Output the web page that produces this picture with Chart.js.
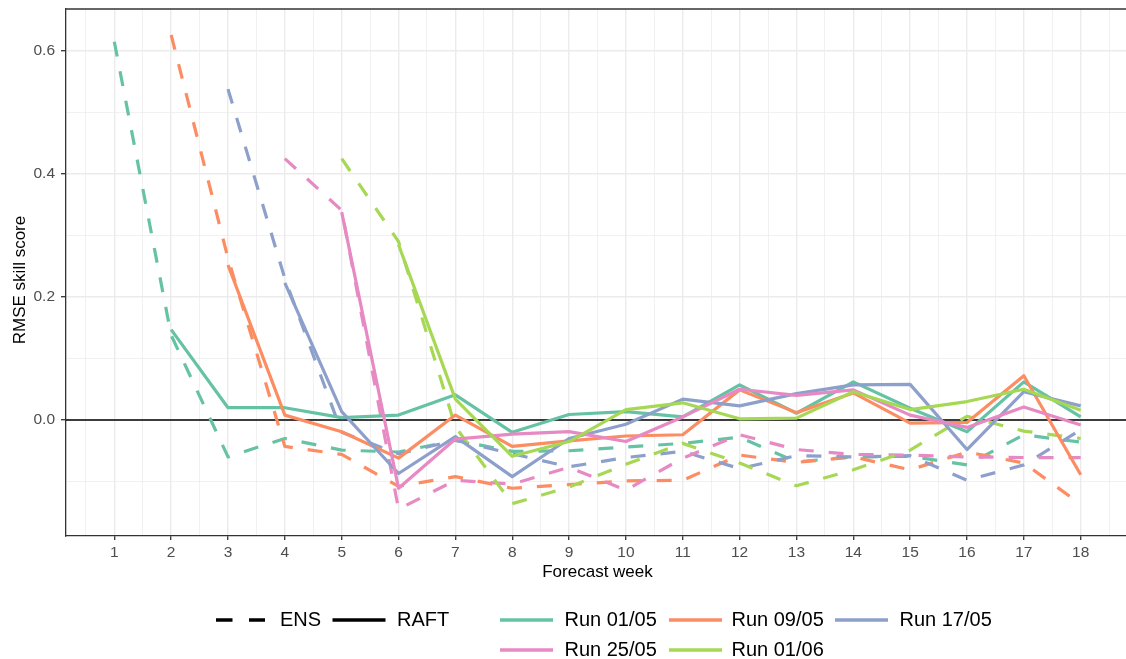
<!DOCTYPE html>
<html><head><meta charset="utf-8">
<script src="https://cdn.jsdelivr.net/npm/chart.js@4.4.0/dist/chart.umd.min.js"></script>
<style>
html,body{margin:0;padding:0;background:#fff;overflow:hidden;width:1126px;height:659px}
#wrap{position:absolute;left:0;top:0;width:1129px;height:659px}
</style></head>
<body><div id="wrap"><canvas id="c" width="1129" height="659"></canvas></div>
<script>
// ---- data ----
const weeks = [1,2,3,4,5,6,7,8,9,10,11,12,13,14,15,16,17,18];
const runNames = ['Run 01/05','Run 09/05','Run 17/05','Run 25/05','Run 01/06'];
const methodNames = ['ENS','RAFT'];
const yTickLabels = ['0.0','0.2','0.4','0.6'];
const xTickLabels = weeks.map(String);

const ens0105  = [0.615, 0.138, -0.060, -0.030, -0.049, -0.052, -0.033, -0.051, -0.050, -0.044, -0.038, -0.028, -0.068, -0.060, -0.059, -0.073, -0.024, -0.036];
const ens0905  = [null, 0.626, 0.263, -0.043, -0.056, -0.108, -0.092, -0.111, -0.105, -0.099, -0.098, -0.057, -0.069, -0.060, -0.081, -0.052, -0.070, -0.137];
const ens1705  = [null, null, 0.538, 0.230, -0.020, -0.055, -0.033, -0.055, -0.076, -0.061, -0.051, -0.079, -0.058, -0.060, -0.058, -0.098, -0.073, -0.016];
const ens2505  = [null, null, null, 0.425, 0.341, -0.145, -0.098, -0.104, -0.077, -0.114, -0.062, -0.024, -0.048, -0.056, -0.057, -0.060, -0.061, -0.061];
const ens0106  = [null, null, null, null, 0.425, 0.290, -0.011, -0.136, -0.109, -0.072, -0.038, -0.070, -0.107, -0.081, -0.049, 0.006, -0.018, -0.030];

const raft0105 = [null, 0.147, 0.020, 0.020, 0.004, 0.008, 0.041, -0.020, 0.009, 0.0135, 0.005, 0.057, 0.011, 0.062, 0.019, -0.019, 0.062, 0.005];
const raft0905 = [null, null, 0.252, 0.008, -0.019, -0.062, 0.008, -0.043, -0.034, -0.026, -0.024, 0.049, 0.012, 0.044, -0.005, -0.004, 0.072, -0.089];
const raft1705 = [null, null, null, 0.223, 0.0135, -0.087, -0.027, -0.092, -0.030, -0.007, 0.034, 0.023, 0.043, 0.057, 0.058, -0.048, 0.046, 0.023];
const raft2505 = [null, null, null, null, 0.338, -0.111, -0.031, -0.023, -0.019, -0.035, 0.005, 0.050, 0.040, 0.049, 0.008, -0.012, 0.021, -0.008];
const raft0106 = [null, null, null, null, null, 0.285, 0.034, -0.059, -0.035, 0.017, 0.028, 0.002, 0.003, 0.046, 0.017, 0.030, 0.050, 0.016];

const ensSeries  = [ens0105, ens0905, ens1705, ens2505, ens0106];
const raftSeries = [raft0105, raft0905, raft1705, raft2505, raft0106];

// ---- styles ----
const runColors = ['#66C2A5','#FC8D62','#8DA0CB','#E78AC3','#A6D854'];
const FONT = '"Liberation Sans", Arial, Helvetica, sans-serif';
const DASH = [15, 15];

function toPoints(vals){
  const pts = [];
  vals.forEach((v,i)=>{ if(v!==null) pts.push({x:weeks[i], y:v}); });
  return pts;
}

// drawing order: ENS runs first, then RAFT runs (last drawn on top).
// Chart.js draws index 0 last, so reverse.
const ordered = [];
ensSeries.forEach((s,i)=>ordered.push({label:methodNames[0]+' '+runNames[i], data:toPoints(s), borderColor:runColors[i], borderDash:DASH}));
raftSeries.forEach((s,i)=>ordered.push({label:methodNames[1]+' '+runNames[i], data:toPoints(s), borderColor:runColors[i], borderDash:[]}));
const datasets = ordered.reverse().map(d=>Object.assign({borderWidth:3.2, pointRadius:0, fill:false, tension:0, borderCapStyle:'butt', borderJoinStyle:'round'}, d));

const yTickValues = [-0.1,0,0.1,0.2,0.3,0.4,0.5,0.6];
const xTickValues = [];
for(let v=0.5; v<=18.5; v+=0.5) xTickValues.push(v);

const isMajorY = v => Math.abs(Math.round(v*10)%2)===0 && v>=0;
const isMajorX = v => Math.abs(v-Math.round(v))<1e-9;

const decor = {
  id:'decor',
  beforeDatasetsDraw(chart){
    const {ctx, chartArea:a, scales:{y}} = chart;
    const y0 = y.getPixelForValue(0);
    ctx.save();
    ctx.beginPath(); ctx.rect(a.left,a.top,a.right-a.left,a.bottom-a.top); ctx.clip();
    ctx.strokeStyle='#000'; ctx.lineWidth=1.5;
    ctx.beginPath(); ctx.moveTo(a.left,y0); ctx.lineTo(a.right,y0); ctx.stroke();
    ctx.restore();
  },
  afterDraw(chart){
    const {ctx, chartArea:a} = chart;
    ctx.save();
    // top border
    ctx.strokeStyle='#333'; ctx.lineWidth=1.3;
    ctx.beginPath(); ctx.moveTo(a.left, a.top); ctx.lineTo(a.right, a.top); ctx.stroke();
    // axis titles
    ctx.fillStyle='#000';
    ctx.font = '17px '+FONT;
    ctx.textAlign='center'; ctx.textBaseline='middle';
    ctx.fillText('Forecast week', (a.left+a.right)/2, 572);
    ctx.save();
    ctx.translate(20, 280);
    ctx.rotate(-Math.PI/2);
    ctx.fillText('RMSE skill score', 0, 0);
    ctx.restore();
    // legend
    ctx.font = '20px '+FONT;
    ctx.textAlign='left'; ctx.textBaseline='middle';
    const row1 = 620, row2 = 650;
    function key(x1,x2,y,color,dash){
      ctx.save(); ctx.strokeStyle=color; ctx.lineWidth=3.5; ctx.lineCap='butt';
      ctx.setLineDash(dash); ctx.beginPath(); ctx.moveTo(x1,y); ctx.lineTo(x2,y); ctx.stroke(); ctx.restore();
    }
    key(216,265,row1,'#000',[16.5,16.5]); ctx.fillText(methodNames[0],280,row1);
    key(332.5,385.5,row1,'#000',[]);      ctx.fillText(methodNames[1],397,row1);
    const pos = [[500,553,564.5,row1],[669,722,731.5,row1],[835,888,899.5,row1],[500,553,564.5,row2],[669,722,731.5,row2]];
    pos.forEach((p,i)=>{ key(p[0],p[1],p[3],runColors[i],[]); ctx.fillStyle='#000'; ctx.fillText(runNames[i],p[2],p[3]); });
    ctx.restore();
  }
};

new Chart(document.getElementById('c'), {
  type:'line',
  data:{datasets},
  options:{
    responsive:false, devicePixelRatio:1, animation:false,
    layout:{padding:{top:9,left:0,right:0,bottom:0}},
    plugins:{legend:{display:false}, tooltip:{enabled:false}},
    scales:{
      x:{
        type:'linear', min:0.15, max:18.85,
        afterBuildTicks:s=>{ s.ticks = xTickValues.map(v=>({value:v})); },
        afterFit:s=>{ s.height=123; s.paddingLeft=0; s.paddingRight=0; s.paddingTop=0; s.paddingBottom=0; },
        grid:{color:'#EBEBEB', lineWidth:c=>isMajorX(c.tick.value)?1.4:0.7,
              tickColor:c=>isMajorX(c.tick.value)?'#333':'rgba(0,0,0,0)', tickLength:4, tickWidth:1.3, drawTicks:true},
        border:{display:true, color:'#333', width:1.3},
        ticks:{autoSkip:false, maxRotation:0, minRotation:0, padding:3, color:'#4D4D4D',
               font:{family:FONT, size:15.5},
               callback:v=>isMajorX(v)? xTickLabels[Math.round(v)-1] : ''}
      },
      y:{
        type:'linear', min:-0.1886, max:0.6683,
        afterBuildTicks:s=>{ s.ticks = yTickValues.map(v=>({value:v})); },
        afterFit:s=>{ s.width=66; s.paddingLeft=0; s.paddingRight=0; s.paddingTop=0; s.paddingBottom=0; },
        grid:{color:'#EBEBEB', lineWidth:c=>isMajorY(c.tick.value)?1.4:0.7,
              tickColor:c=>isMajorY(c.tick.value)?'#333':'rgba(0,0,0,0)', tickLength:5, tickWidth:1.3, drawTicks:true},
        border:{display:true, color:'#333', width:1.3},
        ticks:{autoSkip:false, padding:6, color:'#4D4D4D', font:{family:FONT, size:15.5},
               callback:v=>isMajorY(v)? yTickLabels[Math.round(v*5)] : ''}
      }
    }
  },
  plugins:[decor]
});
</script>
</body></html>
